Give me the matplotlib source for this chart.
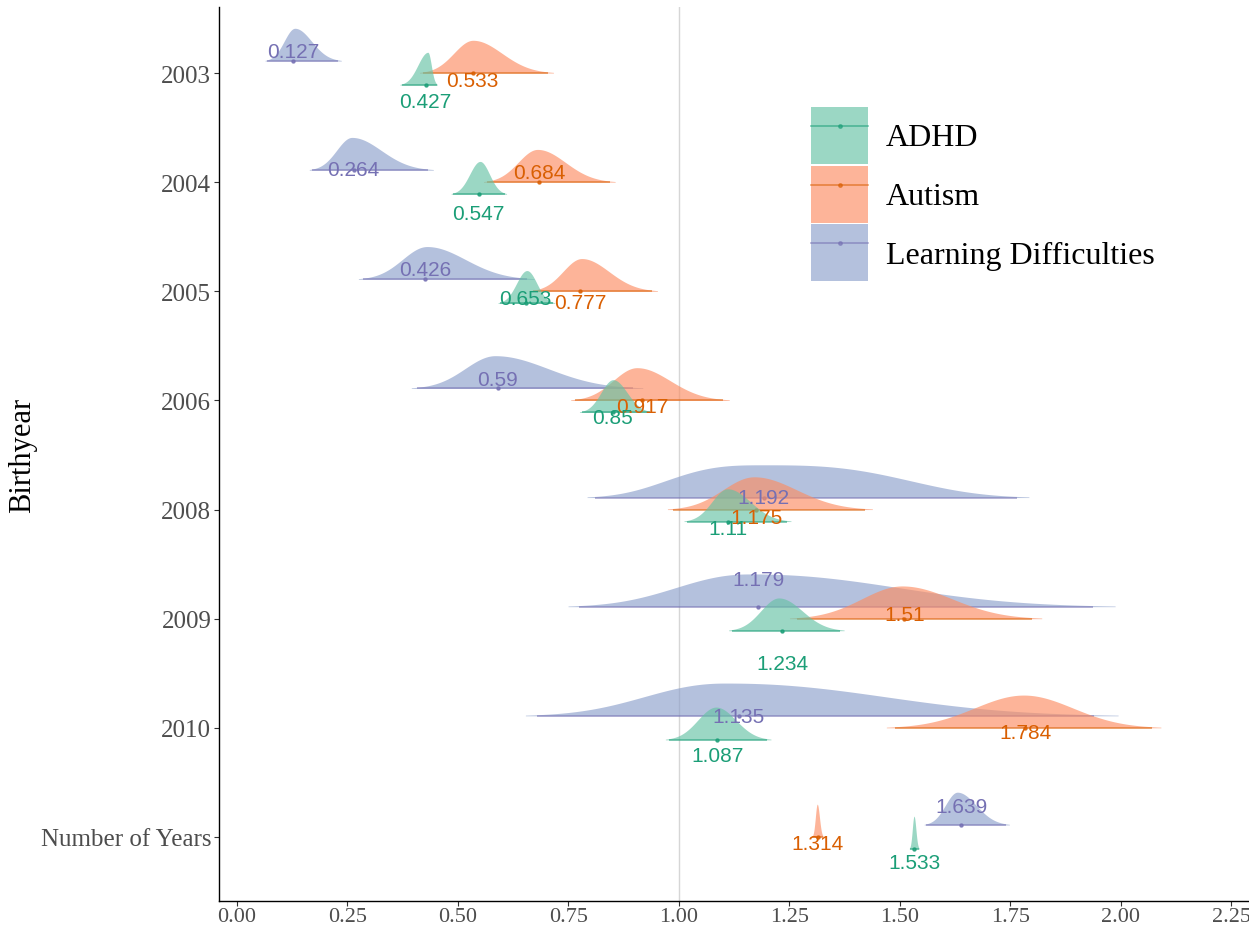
import numpy as np
import matplotlib
matplotlib.use("Agg")
import matplotlib.pyplot as plt
from matplotlib.patches import Patch
from matplotlib.lines import Line2D
from matplotlib.legend_handler import HandlerTuple

# ---- data -------------------------------------------------------------
categories = ["2003", "2004", "2005", "2006", "2008", "2009", "2010", "Number of Years"]
groups = ["ADHD", "Autism", "Learning Difficulties"]

# posterior medians (printed labels)
adhd_median = [0.427, 0.547, 0.653, 0.85, 1.11, 1.234, 1.087, 1.533]
autism_median = [0.533, 0.684, 0.777, 0.917, 1.175, 1.51, 1.784, 1.314]
ld_median = [0.127, 0.264, 0.426, 0.59, 1.192, 1.179, 1.135, 1.639]

# posterior modes (peak of each density)
adhd_mode = [0.432, 0.55, 0.656, 0.851, 1.11, 1.226, 1.084, 1.532]
autism_mode = [0.534, 0.68, 0.78, 0.905, 1.17, 1.505, 1.78, 1.313]
ld_mode = [0.131, 0.26, 0.43, 0.584, 1.19, 1.16, 1.105, 1.63]

# interval bounds
adhd_lo = [0.373, 0.489, 0.595, 0.78, 1.018, 1.12, 0.977, 1.522]
adhd_hi = [0.452, 0.606, 0.715, 0.934, 1.244, 1.364, 1.20, 1.543]
autism_lo = [0.421, 0.566, 0.67, 0.765, 0.987, 1.267, 1.49, 1.302]
autism_hi = [0.704, 0.844, 0.94, 1.10, 1.42, 1.80, 2.07, 1.326]
ld_lo = [0.068, 0.17, 0.285, 0.407, 0.81, 0.774, 0.68, 1.56]
ld_hi = [0.229, 0.432, 0.656, 0.896, 1.765, 1.937, 1.94, 1.74]

x_ticks = [0.00, 0.25, 0.50, 0.75, 1.00, 1.25, 1.50, 1.75, 2.00, 2.25]

series = {
    "ADHD": dict(median=adhd_median, mode=adhd_mode, lo=adhd_lo, hi=adhd_hi),
    "Autism": dict(median=autism_median, mode=autism_mode, lo=autism_lo, hi=autism_hi),
    "Learning Difficulties": dict(median=ld_median, mode=ld_mode, lo=ld_lo, hi=ld_hi),
}

# ---- layout / style ---------------------------------------------------
fill_colors = {"ADHD": "#66c2a5", "Autism": "#fc8d62", "Learning Difficulties": "#8da0cb"}
dark_colors = {"ADHD": "#1b9e77", "Autism": "#d95f02", "Learning Difficulties": "#7570b3"}
dodge = {"ADHD": -0.11, "Autism": 0.0, "Learning Difficulties": 0.11}
draw_order = ["Learning Difficulties", "Autism", "ADHD"]
slab_height = 0.30

# slab shape exponent (2 = gaussian-like, larger = flatter top)
shape_power = {
    "ADHD": [2, 2, 2, 2, 2, 2, 2, 2],
    "Autism": [2, 2, 2, 2, 2, 2, 2, 2],
    "Learning Difficulties": [2, 2, 2, 2, 3, 2.2, 2.2, 2],
}

# vertical label offsets (category units, positive = downwards)
label_shift = {
    "ADHD": [0.26, 0.29, 0.07, 0.16, 0.17, 0.41, 0.25, 0.23],
    "Autism": [0.07, -0.09, 0.10, 0.06, 0.07, -0.04, 0.04, 0.06],
    "Learning Difficulties": [-0.20, -0.12, -0.20, -0.19, -0.11, -0.36, -0.10, -0.28],
}

serif = "Liberation Serif"
sans = "Liberation Sans"


def slab(mode, lo, hi, p, n=500):
    reach = 6.8 ** (1.0 / p)
    sl = (mode - lo) / reach
    sr = (hi - mode) / reach
    ext = 7.8 ** (1.0 / p)
    x = np.linspace(mode - ext * sl, mode + ext * sr, n)
    z = np.where(x < mode, (x - mode) / sl, (x - mode) / sr)
    return x, np.exp(-0.5 * np.abs(z) ** p)


fig = plt.figure(figsize=(12.49, 9.28), dpi=100)
ax = fig.add_axes([219 / 1249, 1 - 902 / 928, 1 - 219 / 1249, (902 - 8) / 928])

n = len(categories)
ypos = np.arange(n)[::-1]

ax.axvline(1.0, color="#d6d6d6", lw=1.0, zorder=0)

for gi, g in enumerate(draw_order):
    s = series[g]
    for i in range(n):
        base = ypos[i] + dodge[g]
        x, d = slab(s["mode"][i], s["lo"][i], s["hi"][i], shape_power[g][i])
        ax.fill_between(x, base, base + slab_height * d, color=fill_colors[g],
                        alpha=0.65, lw=0, zorder=2 + gi)
        ax.plot([s["lo"][i], s["hi"][i]], [base, base], color=dark_colors[g],
                alpha=0.6, lw=1.2, zorder=2 + gi, solid_capstyle="butt")
        ax.plot([s["median"][i]], [base], "o", color=dark_colors[g], ms=2.2,
                alpha=0.8, zorder=2 + gi)

for g in draw_order:
    s = series[g]
    for i in range(n):
        ax.text(s["median"][i], ypos[i] - label_shift[g][i], f"{s['median'][i]:g}",
                color=dark_colors[g], fontsize=15, family=sans,
                ha="center", va="center", zorder=10)

ax.set_xlim(-0.0407, 2.29)
ax.set_ylim(-0.587, n - 1 + 0.605)
ax.set_xticks(x_ticks)
ax.set_xticklabels([f"{t:.2f}" for t in x_ticks])
ax.set_yticks(ypos)
ax.set_yticklabels(categories)

for sp in ["top", "right"]:
    ax.spines[sp].set_visible(False)
for sp in ["left", "bottom"]:
    ax.spines[sp].set_color("black")
    ax.spines[sp].set_linewidth(1.0)

ax.tick_params(axis="both", length=3.5, width=0.8, color="#333333",
               labelcolor="#4d4d4d", pad=2)
ax.tick_params(axis="x", pad=1)
for lab in ax.get_yticklabels():
    lab.set_fontfamily(serif)
    lab.set_fontsize(18)
for lab in ax.get_xticklabels():
    lab.set_fontfamily(serif)
    lab.set_fontsize(16)

fig.text(23 / 1249, 1 - 455 / 928, "Birthyear", family=serif, fontsize=22,
         color="black", rotation=90, ha="center", va="center")

handles = []
for g in groups:
    p = Patch(facecolor=fill_colors[g], alpha=0.65, edgecolor="none")
    l = Line2D([], [], color=dark_colors[g], alpha=0.6, lw=1.2, marker="o", markersize=2.5)
    handles.append((p, l))
fig.legend(handles, groups, handler_map={tuple: HandlerTuple(ndivide=1, pad=0)},
           loc="upper left", bbox_to_anchor=(811 / 1249, 1 - 108 / 928),
           frameon=False, prop={"family": serif, "size": 23},
           handlelength=1.79, handleheight=2.37, handletextpad=0.55,
           labelspacing=0.05, borderpad=0, borderaxespad=0)

fig.savefig("out.png", dpi=100)
